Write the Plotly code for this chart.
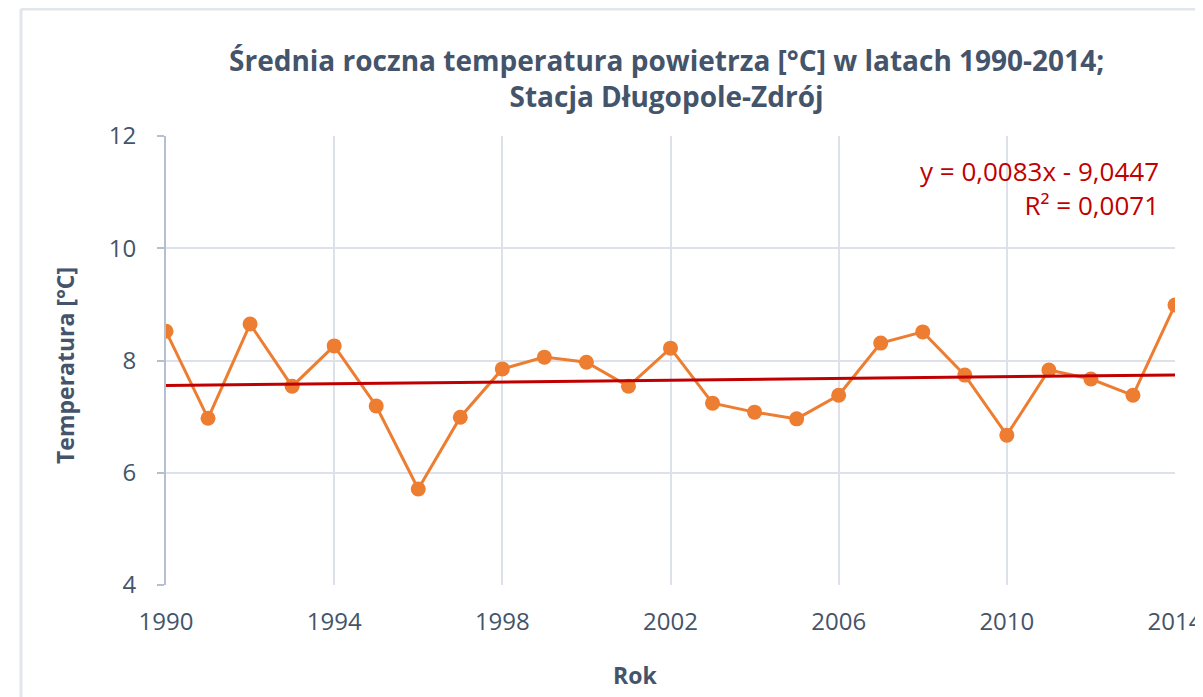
import numpy as np
import plotly.graph_objects as go

years = list(range(1990, 2015))
temps = [8.52, 6.97, 8.65, 7.54, 8.26, 7.19, 5.71, 6.99, 7.85, 8.06, 7.97, 7.54, 8.22,
         7.24, 7.08, 6.96, 7.38, 8.31, 8.51, 7.74, 6.67, 7.83, 7.67, 7.38, 8.99]
x_ticks = [1990, 1994, 1998, 2002, 2006, 2010, 2014]
y_ticks = [4, 6, 8, 10, 12]
title_text = "Średnia roczna temperatura powietrza [°C] w latach 1990-2014;<br>Stacja Długopole-Zdrój"
x_title = "Rok"
y_title = "Temperatura [°C]"
eq_text = "y = 0,0083x - 9,0447<br>R² = 0,0071"

slope, intercept = np.polyfit(years, temps, 1)
trend_x = [years[0], years[-1]]
trend_y = [slope * v + intercept for v in trend_x]

FONT = "Open Sans"
axis_col = "#44546a"
grid_col = "#dde2ea"

# page body margin offset (8px)
OFF = 8
SW, SH = 1203, 697
W, H = SW - OFF, SH - OFF
# plot area in screen pixels
PX0, PX1, PY0, PY1 = 166, 1175, 136, 585
L, T = PX0 - OFF, PY0 - OFF
R = W - (PX1 - OFF)
B = H - (PY1 - OFF)
pw, ph = PX1 - PX0, PY1 - PY0

def sx(px):
    return (px - PX0) / pw

def sy(py):
    return (PY1 - py) / ph

fig = go.Figure()
fig.add_trace(go.Scatter(x=years, y=temps, mode="lines+markers",
                         line=dict(color="#ed7d31", width=3),
                         marker=dict(color="#ed7d31", size=15),
                         showlegend=False, hoverinfo="x+y"))
fig.add_trace(go.Scatter(x=trend_x, y=trend_y, mode="lines",
                         line=dict(color="#c00000", width=3),
                         showlegend=False))

fig.update_layout(
    width=W, height=H,
    margin=dict(l=L, r=R, t=T, b=B, autoexpand=False),
    paper_bgcolor="white", plot_bgcolor="white",
    font=dict(family=FONT, color=axis_col),
    xaxis=dict(range=[1990, 2014], tickvals=x_ticks, ticktext=[str(v) for v in x_ticks],
               showgrid=True, gridcolor=grid_col, gridwidth=2,
               showline=False, zeroline=False, ticks="", automargin=False,
               ticklabelstandoff=20,
               tickfont=dict(size=24, color=axis_col)),
    yaxis=dict(range=[4, 12], tickvals=y_ticks,
               showgrid=True, gridcolor=grid_col, gridwidth=2,
               showline=True, linecolor="#b4bfcf", linewidth=2,
               ticks="outside", ticklen=7, tickcolor="#b4bfcf", tickwidth=2,
               ticklabelstandoff=16, automargin=False,
               zeroline=False,
               tickfont=dict(size=24, color=axis_col)),
    annotations=[
        dict(text=title_text, xref="paper", yref="paper",
             x=sx(666), y=sy(78), xanchor="center", yanchor="middle",
             showarrow=False, align="center",
             font=dict(family=FONT, size=28, color=axis_col, weight="bold")),
        dict(text=x_title, xref="paper", yref="paper",
             x=sx(635), y=sy(675), xanchor="center", yanchor="middle",
             showarrow=False,
             font=dict(family=FONT, size=23, color=axis_col, weight="bold")),
        dict(text=y_title, xref="paper", yref="paper",
             x=sx(65), y=sy(366), xanchor="center", yanchor="middle",
             showarrow=False, textangle=-90,
             font=dict(family=FONT, size=23, color=axis_col, weight="bold")),
        dict(text=eq_text, xref="paper", yref="paper",
             x=sx(1161), y=sy(188), xanchor="right", yanchor="middle",
             align="right", showarrow=False,
             font=dict(family=FONT, size=26, color="#c00000")),
    ],
    shapes=[
        dict(type="line", xref="paper", yref="paper",
             x0=sx(21), x1=sx(1240), y0=sy(9), y1=sy(9),
             line=dict(color="#e1e5ec", width=3)),
        dict(type="line", xref="paper", yref="paper",
             x0=sx(21), x1=sx(21), y0=sy(9), y1=sy(740),
             line=dict(color="#e1e5ec", width=3)),
    ],
)

fig.write_html("out.html")
